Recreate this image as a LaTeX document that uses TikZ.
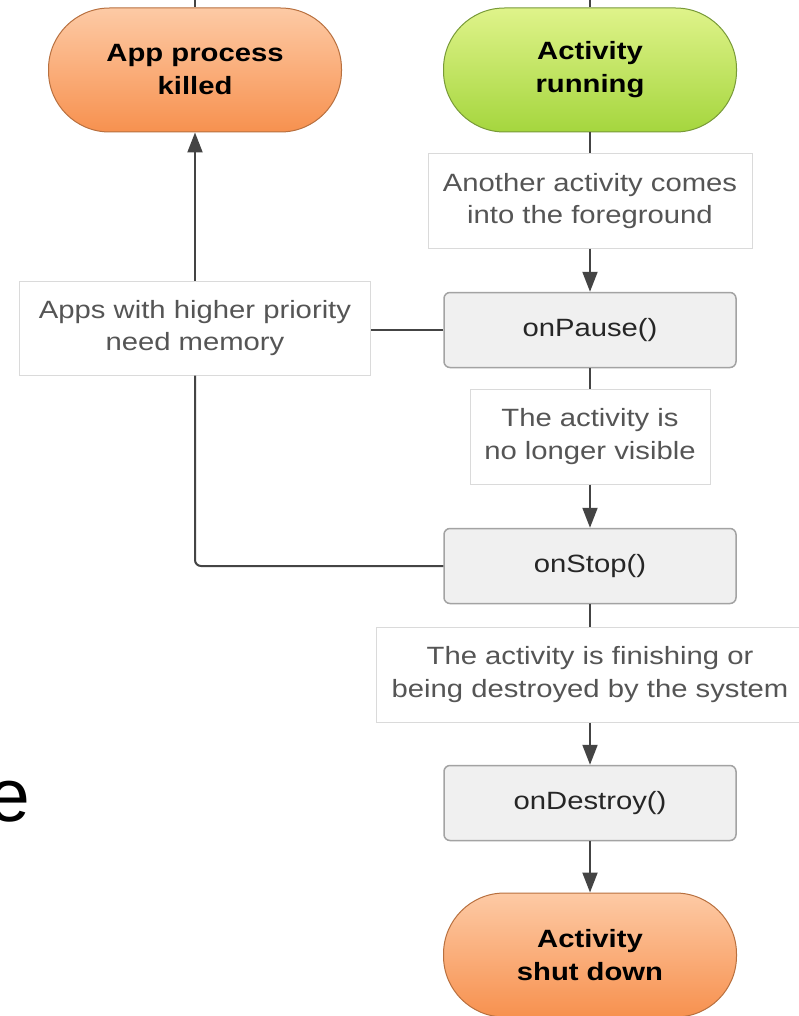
\documentclass[tikz,border=0pt]{standalone}
\usepackage{fontspec}
\setmainfont[FakeStretch=1.17]{Liberation Sans}
\newfontfamily\plainsans{Liberation Sans}
\usetikzlibrary{arrows.meta}
\definecolor{orTop}{HTML}{FDCAA5}
\definecolor{orBot}{HTML}{F7914F}
\definecolor{orLine}{HTML}{B8703F}
\definecolor{grTop}{HTML}{DFF38A}
\definecolor{grBot}{HTML}{A5D63E}
\definecolor{grLine}{HTML}{789A38}
\definecolor{lblText}{HTML}{555555}
\definecolor{lblLine}{HTML}{DADADA}
\definecolor{mFill}{HTML}{F0F0F0}
\definecolor{mLine}{HTML}{A3A3A3}
\definecolor{connCol}{HTML}{444444}
\begin{document}
\begin{tikzpicture}[x=1pt,y=-1pt,
  pill/.style={rectangle, rounded corners=61pt, minimum width=293pt, minimum height=124pt,
    inner sep=0pt, align=center, line width=1pt, font=\fontsize{25}{33}\selectfont\bfseries, text=black},
  pillO/.style={pill, draw=orLine, top color=orTop, bottom color=orBot},
  pillG/.style={pill, draw=grLine, top color=grTop, bottom color=grBot},
  lblbox/.style={rectangle, draw=lblLine, fill=white, line width=1pt, inner sep=0pt,
    align=center, text=lblText, font=\fontsize{25}{32.5}\selectfont},
  method/.style={rectangle, rounded corners=6pt, draw=mLine, fill=mFill, line width=1.5pt,
    minimum width=292pt, minimum height=75pt, inner sep=0pt, text=black!85,
    font=\fontsize{25}{30}\selectfont},
  conn/.style={draw=connCol, line width=2pt},
  arr/.style={conn, -{Triangle[width=15pt,length=20pt]}}
]
\useasboundingbox (0,0) rectangle (799,1016);
\fill[white] (0,0) rectangle (799,1016);

\node[pillO] (killed) at (195,70) {App process\\killed};
\node[pillG] (running) at (590,70) {Activity\\running};
\node[lblbox, minimum width=324pt, minimum height=94pt] (another) at (590,201) {Another activity comes\\into the foreground};
\node[method] (pause) at (590,330) {onPause()};
\node[lblbox, minimum width=351pt, minimum height=94pt] (memory) at (195,328) {Apps with higher priority\\need memory};
\node[lblbox, minimum width=240pt, minimum height=95pt] (visible) at (590,436.5) {The activity is\\no longer visible};
\node[method] (stop) at (590,566) {onStop()};
\node[lblbox, minimum width=428pt, minimum height=95pt] (finish) at (590,674.5) {The activity is finishing or\\being destroyed by the system};
\node[method] (destroy) at (590,803) {onDestroy()};
\node[pillO] (shut) at (590,955) {Activity\\shut down};

\node[anchor=base east, inner sep=0pt, font=\plainsans\fontsize{75}{75}\selectfont] (e) at (30,821) {e};

\coordinate (topA) at (195,0);
\coordinate (topB) at (590,0);
\draw[conn] (topA) -- (killed.north);
\draw[conn] (topB) -- (running.north);

\draw[conn] (running.south) -- (another.north);
\draw[arr] (another.south) -- (pause.north);
\draw[conn] (pause.south) -- (visible.north);
\draw[arr] (visible.south) -- (stop.north);
\draw[conn] (stop.south) -- (finish.north);
\draw[arr] (finish.south) -- (destroy.north);
\draw[arr] (destroy.south) -- (shut.north);

\draw[conn] (pause.west) -- (pause.west -| memory.east);
\draw[arr] (memory.north) -- (killed.south);
\draw[conn, rounded corners=6pt] (stop.west) -| (memory.south);
\end{tikzpicture}
\end{document}
